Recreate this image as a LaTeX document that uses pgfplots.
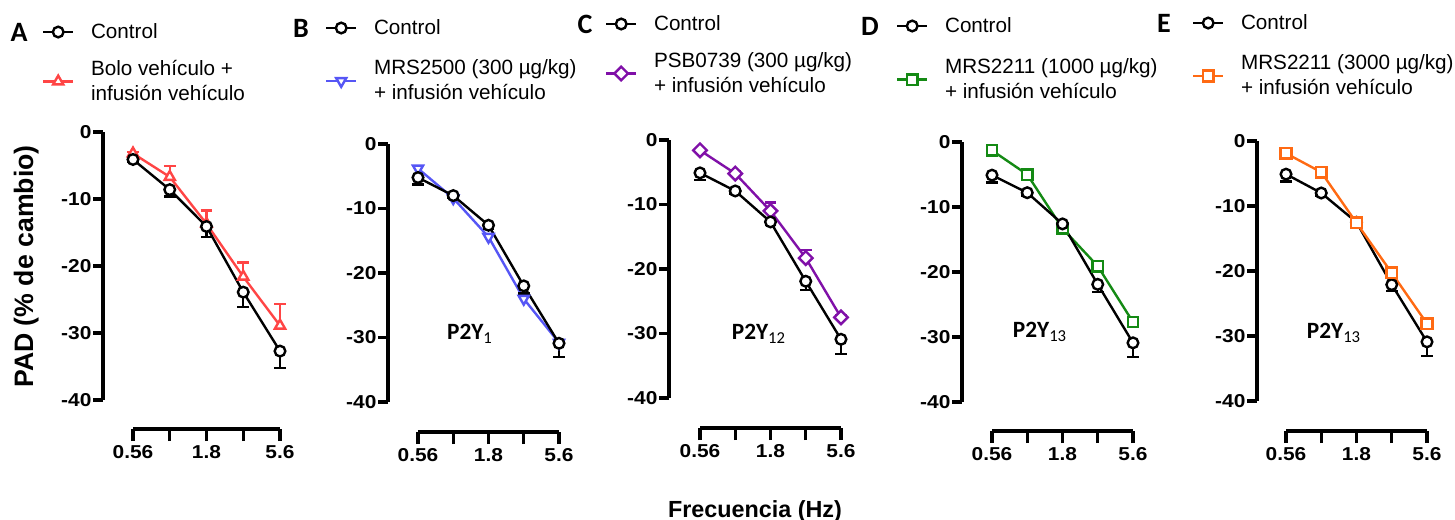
\documentclass[border=0pt]{standalone}
\usepackage{fontspec}
\setmainfont{Liberation Sans}
\newfontfamily\calfont{Carlito}
\newfontfamily\tickfam{Liberation Sans Bold}[FakeStretch=1.12]
\usepackage{pgfplots}
\pgfplotsset{compat=1.18}
\definecolor{cA}{HTML}{FF4545}
\definecolor{cB}{HTML}{5656F5}
\definecolor{cC}{HTML}{8010A8}
\definecolor{cD}{HTML}{148A14}
\definecolor{cE}{HTML}{FF6A13}
\newcommand\ticfont{\tickfam\fontsize{14}{16}\selectfont}
\newcommand\legfont{\fontsize{15.5}{18.75}\selectfont}
\newcommand\letfont{\calfont\bfseries\fontsize{21}{21}\selectfont}
\newcommand\pfont{\calfont\bfseries\fontsize{17.5}{17.5}\selectfont}
\newcommand\sub[1]{\raisebox{-0.35ex}{\mdseries\fontsize{12.5}{12.5}\selectfont #1}}
\tikzset{
  myctrl/.style={black, line width=1.8pt, mark=*, mark size=4.0pt, mark options={fill=white, solid}},
  myA/.style={cA, line width=1.8pt, mark=triangle*, mark size=4.4pt, mark options={fill=white, solid}},
  myB/.style={cB, line width=1.8pt, mark=triangle*, mark size=4.4pt, mark options={fill=white, solid, rotate=180}},
  myC/.style={cC, line width=1.8pt, mark=square*, mark size=3.6pt, mark options={fill=white, solid, rotate=45}},
  myD/.style={cD, line width=1.8pt, mark=square*, mark size=3.9pt, mark options={fill=white, solid}},
  myE/.style={cE, line width=1.8pt, mark=square*, mark size=4pt, mark options={fill=white, solid}},
}
\pgfplotsset{
  myerrdown/.style={/pgfplots/error bars/y dir=minus, /pgfplots/error bars/y explicit,
    /pgfplots/error bars/error bar style={line width=1.8pt, solid},
    /pgfplots/error bars/error mark options={rotate=90, mark size=4.4pt, line width=1.8pt}},
  myerrup/.style={/pgfplots/error bars/y dir=plus, /pgfplots/error bars/y explicit,
    /pgfplots/error bars/error bar style={line width=1.8pt, solid},
    /pgfplots/error bars/error mark options={rotate=90, mark size=4.4pt, line width=1.8pt}},
  mycommon/.style={
    scale only axis, enlargelimits=false, clip=false,
    tick align=outside,
    axis line style={line width=2.4pt, -},
    major tick style={line width=2.4pt, black},
    legend image code/.code={\draw[mark repeat=2, mark phase=2, ##1] plot coordinates {(0pt,0pt) (11.25pt,0pt) (22.5pt,0pt)};},
    legend style={draw=none, fill=none, inner sep=0pt, outer sep=0pt, anchor=west, font=\legfont,
      cells={anchor=west, align=left}, nodes={inner sep=0pt},
      /tikz/every odd column/.append style={column sep=12.5pt}},
  },
  mypanel/.style={mycommon, axis x line=none, axis y line*=left, ymin=-40, ymax=0,
    ytick={-40,-30,-20,-10,0}, yticklabels={-40,-30,-20,-10,0},
    major tick length=7.5pt, yticklabel style={font=\ticfont, inner sep=1pt}},
  myxhelp/.style={mycommon, xmin=0, xmax=4, ymin=0, ymax=1, axis x line*=bottom, axis y line=none,
    xtick={0,1,2,3,4}, xticklabels={0.56,,1.8,,5.6},
    major tick length=9pt, xticklabel style={font=\ticfont}},
}
\begin{document}
\begin{tikzpicture}
\useasboundingbox (0,0) rectangle (1091.25pt,-390pt);
% x positions 0..4 = 0.56, 1, 1.8, 3.2, 5.6 Hz (log-spaced)
% ---------------- Panel A ----------------
\begin{axis}[mypanel, at={(103*0.75pt,-400*0.75pt)}, anchor=south west,
  width=192*0.75pt, height=268*0.75pt, xmin=-0.816, xmax=4.408,
  legend style={at={(-0.3177,1.3731)}}]
\addlegendimage{myctrl}\addlegendentry{Control}
\addplot[myA, forget plot, myerrup] coordinates {(0,-3.2) +- (0,0.2) (1,-6.7) +- (0,1.6) (2,-13.7) +- (0,2.0) (3,-21.6) +- (0,2.1) (4,-28.9) +- (0,3.2)};
\addplot[myctrl, forget plot, myerrdown] coordinates {(0,-4.1) +- (0,0.3) (1,-8.6) +- (0,1.0) (2,-14.1) +- (0,1.6) (3,-23.9) +- (0,2.2) (4,-32.7) +- (0,2.5)};
\end{axis}
\begin{axis}[myxhelp, at={(133*0.75pt,-429*0.75pt)}, anchor=south west,
  width=147*0.75pt, height=429*0.75pt,
  legend style={at={(-0.6190,0.8100)}}]
\addlegendimage{myA}\addlegendentry{Bolo vehículo +\\infusión vehículo}
\end{axis}
% ---------------- Panel B ----------------
\begin{axis}[mypanel, at={(388*0.75pt,-402*0.75pt)}, anchor=south west,
  width=186*0.75pt, height=258*0.75pt, xmin=-0.851, xmax=4.426,
  legend style={at={(-0.3387,1.4496)}}]
\addlegendimage{myctrl}\addlegendentry{Control}
\addplot[myB, forget plot] coordinates {(0,-3.8) (1,-8.4) (2,-14.4) (3,-24.0) (4,-30.8)};
\addplot[myctrl, forget plot, myerrdown] coordinates {(0,-5.2) +- (0,1.1) (1,-8.0) +- (0,0.4) (2,-12.6) +- (0,0.5) (3,-22.0) +- (0,1.2) (4,-30.9) +- (0,2.1)};
\end{axis}
\begin{axis}[myxhelp, at={(418*0.75pt,-432*0.75pt)}, anchor=south west,
  width=141*0.75pt, height=432*0.75pt,
  legend style={at={(-0.6596,0.8125)}}]
\addlegendimage{myB}\addlegendentry{MRS2500 (300 µg/kg)\\+ infusión vehículo}
\end{axis}
% ---------------- Panel C ----------------
\begin{axis}[mypanel, at={(669*0.75pt,-398*0.75pt)}, anchor=south west,
  width=187*0.75pt, height=258*0.75pt, xmin=-0.879, xmax=4.426,
  legend style={at={(-0.3422,1.4496)}}]
\addlegendimage{myctrl}\addlegendentry{Control}
\addplot[myC, forget plot, myerrup] coordinates {(0,-1.6) +- (0,0.2) (1,-5.2) +- (0,0.3) (2,-11.0) +- (0,1.3) (3,-18.3) +- (0,1.2) (4,-27.5) +- (0,0.3)};
\addplot[myctrl, forget plot, myerrdown] coordinates {(0,-5.1) +- (0,1.1) (1,-7.9) +- (0,0.4) (2,-12.7) +- (0,0.5) (3,-21.9) +- (0,1.4) (4,-30.9) +- (0,2.3)};
\end{axis}
\begin{axis}[myxhelp, at={(700*0.75pt,-428*0.75pt)}, anchor=south west,
  width=141*0.75pt, height=428*0.75pt,
  legend style={at={(-0.6738,0.8283)}}]
\addlegendimage{myC}\addlegendentry{PSB0739 (300 µg/kg)\\+ infusión vehículo}
\end{axis}
% ---------------- Panel D ----------------
\begin{axis}[mypanel, at={(962*0.75pt,-402*0.75pt)}, anchor=south west,
  width=186*0.75pt, height=260*0.75pt, xmin=-0.851, xmax=4.426,
  legend style={at={(-0.3548,1.4462)}}]
\addlegendimage{myctrl}\addlegendentry{Control}
\addplot[myD, forget plot] coordinates {(0,-1.3) (1,-5.0) (2,-13.3) (3,-19.1) (4,-27.7)};
\addplot[myctrl, forget plot, myerrdown] coordinates {(0,-5.1) +- (0,1.1) (1,-7.8) +- (0,0.4) (2,-12.6) +- (0,0.5) (3,-21.9) +- (0,1.2) (4,-30.9) +- (0,2.2)};
\end{axis}
\begin{axis}[myxhelp, at={(992*0.75pt,-431*0.75pt)}, anchor=south west,
  width=141*0.75pt, height=431*0.75pt,
  legend style={at={(-0.6809,0.8155)}}]
\addlegendimage{myD}\addlegendentry{MRS2211 (1000 µg/kg)\\+ infusión vehículo}
\end{axis}
% ---------------- Panel E ----------------
\begin{axis}[mypanel, at={(1257*0.75pt,-401*0.75pt)}, anchor=south west,
  width=185*0.75pt, height=260*0.75pt, xmin=-0.823, xmax=4.426,
  legend style={at={(-0.3514,1.4538)}}]
\addlegendimage{myctrl}\addlegendentry{Control}
\addplot[myctrl, forget plot, myerrdown] coordinates {(0,-5.1) +- (0,1.1) (1,-8.0) +- (0,0.4) (2,-12.5) +- (0,0.5) (3,-22.1) +- (0,1.0) (4,-30.9) +- (0,2.2)};
\addplot[myE, forget plot] coordinates {(0,-1.9) (1,-4.8) (2,-12.6) (3,-20.3) (4,-28.1)};
\end{axis}
\begin{axis}[myxhelp, at={(1286*0.75pt,-431*0.75pt)}, anchor=south west,
  width=141*0.75pt, height=431*0.75pt,
  legend style={at={(-0.6667,0.8237)}}]
\addlegendimage{myE}\addlegendentry{MRS2211 (3000 µg/kg)\\+ infusión vehículo}
\end{axis}
% ---------------- Texts ----------------
\node[font=\letfont] at (19*0.75pt,-32*0.75pt) {A};
\node[font=\letfont] at (301*0.75pt,-28*0.75pt) {B};
\node[font=\letfont] at (585*0.75pt,-24*0.75pt) {C};
\node[font=\letfont] at (870*0.75pt,-26*0.75pt) {D};
\node[font=\letfont] at (1164*0.75pt,-23*0.75pt) {E};
\node[font=\pfont] at (469.5*0.75pt,-334*0.75pt) {P2Y\sub{1}};
\node[font=\pfont] at (758.5*0.75pt,-334*0.75pt) {P2Y\sub{12}};
\node[font=\pfont] at (1039.5*0.75pt,-332*0.75pt) {P2Y\sub{13}};
\node[font=\pfont] at (1333.5*0.75pt,-333*0.75pt) {P2Y\sub{13}};
\node[font=\fontsize{20}{20}\selectfont\bfseries, rotate=90, anchor=base] at (33*0.75pt,-266.5*0.75pt) {PAD (\% de cambio)};
\node[font=\fontsize{17.5}{17.5}\selectfont\bfseries, anchor=base] at (755*0.75pt,-517*0.75pt) {Frecuencia (Hz)};
\end{tikzpicture}
\end{document}
